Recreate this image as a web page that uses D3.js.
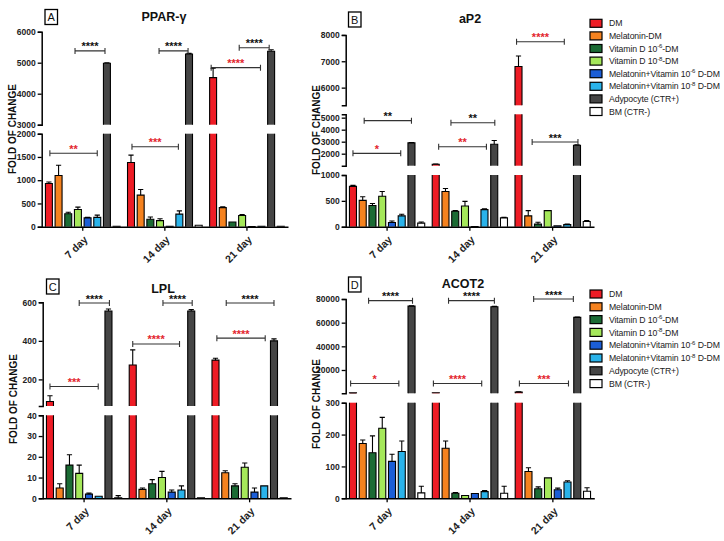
<!DOCTYPE html>
<html><head><meta charset="utf-8">
<script src="https://cdn.jsdelivr.net/npm/d3@7"></script>
<style>body{margin:0;background:#fff} svg{display:block}</style>
</head><body><svg id="c" width="724" height="541"></svg>
<script>
const FONT = '"Liberation Sans", Arial, Helvetica, sans-serif';
const days = ["7 day", "14 day", "21 day"];
const seriesNames = ["DM", "Melatonin-DM", "Vitamin D 10-6-DM", "Vitamin D 10-8-DM",
  "Melatonin+Vitamin 10-6 D-DM", "Melatonin+Vitamin 10-8 D-DM", "Adypocyte (CTR+)", "BM (CTR-)"];
const legendParts = [["DM"], ["Melatonin-DM"], ["Vitamin D 10", "-6", "-DM"], ["Vitamin D 10", "-8", "-DM"],
  ["Melatonin+Vitamin 10", "-6", " D-DM"], ["Melatonin+Vitamin 10", "-8", " D-DM"], ["Adypocyte (CTR+)"], ["BM (CTR-)"]];
const seriesColors = ["#ee1c25", "#f5821f", "#1b6b34", "#a5e85a", "#1c5ed6", "#2ab3ea", "#454545", "#ffffff"];

// PPAR-gamma
const pparMean = [[930, 1100, 280, 370, 190, 200, 4980, 10], [1380, 680, 160, 130, 10, 270, 5280, 30], [4520, 410, 100, 240, 5, 10, 5370, 10]];
const pparErr = [[30, 220, 30, 50, 10, 50, 20, 0], [160, 120, 50, 40, 0, 70, 20, 0], [300, 20, 0, 20, 0, 0, 50, 0]];
const pparTicks = [[0, 500, 1000, 1500, 2000], [3000, 4000, 5000, 6000]];
const pparSig = [
  {day: 0, from: 2.7, to: 5.8, at: 5380, label: "****", red: false},
  {day: 0, from: 0.1, to: 5.0, at: 1580, label: "**", red: true},
  {day: 1, from: 2.9, to: 5.9, at: 5380, label: "****", red: false},
  {day: 1, from: 0.1, to: 4.9, at: 1720, label: "***", red: true},
  {day: 2, from: 2.7, to: 5.8, at: 5480, label: "****", red: false},
  {day: 2, from: -0.2, to: 4.9, at: 4840, label: "****", red: true}];

// aP2
const ap2Mean = [[780, 510, 410, 590, 80, 210, 2900, 70], [1120, 680, 300, 400, 5, 330, 2780, 170], [6800, 210, 50, 310, 15, 40, 2700, 100]];
const ap2Err = [[20, 70, 40, 90, 30, 30, 30, 20], [20, 60, 10, 90, 0, 15, 320, 10], [400, 100, 35, 0, 0, 10, 30, 20]];
const ap2Ticks = [[0, 500, 1000], [2000, 3000, 4000, 5000], [6000, 7000, 8000]];
const ap2Sig = [
  {day: 0, from: 1.15, to: 6.0, at: 4750, label: "**", red: false},
  {day: 0, from: 0, to: 4.9, at: 2030, label: "*", red: true},
  {day: 1, from: 1.56, to: 6.06, at: 4580, label: "**", red: false},
  {day: 1, from: 0.3, to: 5.2, at: 2580, label: "**", red: true},
  {day: 2, from: -0.2, to: 4.7, at: 7740, label: "****", red: true},
  {day: 2, from: 1.4, to: 6.1, at: 2970, label: "***", red: false}];

// LPL
const lplMean = [[85, 5, 16, 12, 2, 1, 555, 0.3], [275, 4.3, 7, 10, 3, 4, 555, 0.2], [300, 12.3, 6, 15, 3, 6, 400, 0.3]];
const lplErr = [[30, 2, 5, 4, 0.5, 0, 10, 1], [78, 0.7, 2, 3, 1, 2, 7, 0], [10, 1, 1, 2, 2, 0, 10, 0]];
const lplTicks = [[0, 10, 20, 30, 40], [200, 400, 600]];
const lplSig = [
  {day: 0, from: 3.0, to: 6.1, at: 596, label: "****", red: false},
  {day: 0, from: 0, to: 4.95, at: 163, label: "***", red: true},
  {day: 1, from: 3.1, to: 6.1, at: 596, label: "****", red: false},
  {day: 1, from: 0, to: 4.8, at: 384, label: "****", red: true},
  {day: 2, from: 1.1, to: 6.0, at: 596, label: "****", red: false},
  {day: 2, from: 0.14, to: 5.1, at: 414, label: "****", red: true}];

// ACOT2
const acotMean = [[700, 172, 143, 220, 116, 147, 74000, 17], [800, 157, 16, 9, 15, 21, 73500, 16], [1300, 84, 30, 64, 27, 51, 64500, 22]];
const acotErr = [[0, 11, 53, 34, 22, 33, 300, 21], [0, 23, 2, 0, 0, 3, 300, 22], [300, 12, 6, 0, 5, 4, 200, 11]];
const acotTicks = [[0, 100, 200, 300], [20000, 40000, 60000, 80000]];
const acotSig = [
  {day: 0, from: 1.6, to: 6.1, at: 78600, label: "****", red: false},
  {day: 0, from: -0.24, to: 4.7, at: 8600, label: "*", red: true},
  {day: 1, from: 1.3, to: 6.0, at: 78600, label: "****", red: false},
  {day: 1, from: -0.25, to: 4.7, at: 8600, label: "****", red: true},
  {day: 2, from: 1.53, to: 5.6, at: 80200, label: "****", red: false},
  {day: 2, from: 0.07, to: 5.1, at: 8600, label: "***", red: true}];

// layout
const panels = [
  {letter: "A", title: "PPAR-\u03B3", mean: pparMean, err: pparErr, sig: pparSig, ticks: pparTicks,
   x0: 41.7, x1: 288, segs: [{d: [0, 2000], r: [226.7, 133.7]}, {d: [3000, 6000], r: [124.7, 31.7]}],
   ylab: [12.7, 129], title_xy: [164, 21], box: [45, 9.5], legend: null},
  {letter: "B", title: "aP2", mean: ap2Mean, err: ap2Err, sig: ap2Sig, ticks: ap2Ticks,
   x0: 345.7, x1: 594, segs: [{d: [0, 1000], r: [226.7, 175]}, {d: [1000, 5280], r: [165.7, 114.3]}, {d: [5330, 8000], r: [105.3, 34.9]}],
   ylab: [316.7, 130], title_xy: [470, 23], box: [348.5, 12], legend: [590, 23.3, 12.6]},
  {letter: "C", title: "LPL", mean: lplMean, err: lplErr, sig: lplSig, ticks: lplTicks,
   x0: 42.7, x1: 291, segs: [{d: [0, 40], r: [498.3, 415.3]}, {d: [62, 600], r: [406, 302.3]}],
   ylab: [13.3, 399], title_xy: [163, 292.5], box: [46.5, 279], legend: null},
  {letter: "D", title: "ACOT2", mean: acotMean, err: acotErr, sig: acotSig, ticks: acotTicks,
   x0: 345.7, x1: 594.3, segs: [{d: [0, 300], r: [498.3, 402.7]}, {d: [300, 80000], r: [393.3, 299]}],
   ylab: [316.7, 404], title_xy: [463, 288], box: [348.5, 277], legend: [590, 294, 12.8]}
];

const svg = d3.select("#c").attr("font-family", FONT);

function drawPanel(p) {
  const g = svg.append("g");
  const segs = p.segs.map((s, k) => ({...s, t: p.ticks[k], y: d3.scaleLinear().domain(s.d).range(s.r)}));
  const y0 = segs[0].r[0];
  const xg = d3.scaleBand().domain(days).range([p.x0, p.x1]);
  const xb = d3.scaleBand().domain(d3.range(seriesNames.length)).range([0, xg.bandwidth()])
    .paddingInner(0.28).paddingOuter(0.385);
  const yOf = v => {
    for (let k = segs.length - 1; k >= 0; k--) {
      const s = segs[k];
      if (v >= s.d[0]) return s.y(Math.min(v, s.d[1]));
    }
    return segs[0].y(0);
  };

  // bars
  p.mean.forEach((row, di) => row.forEach((v, i) => {
    const x = xg(days[di]) + xb(i), w = xb.bandwidth();
    segs.forEach((s, si) => {
      const lo = s.d[0], hi = s.d[1];
      if (si > 0 && v <= lo) return;
      const top = Math.min(v, hi);
      const yb = s.y(lo), yt = s.y(top);
      g.append("rect").attr("x", x).attr("y", yt).attr("width", w)
        .attr("height", Math.max(0, yb - yt)).attr("fill", seriesColors[i]);
      const d = v <= hi ? `M${x},${yb}V${yt}H${x + w}V${yb}` : `M${x},${yb}V${yt}M${x + w},${yt}V${yb}`;
      g.append("path").attr("d", d).attr("fill", "none").attr("stroke", "#000").attr("stroke-width", 1.1);
    });
    const e = p.err[di][i];
    if (e > 0) {
      const cx = x + w / 2, ya = yOf(v), yz = yOf(v + e);
      g.append("path").attr("d", `M${cx},${ya}V${yz}M${cx - 2.6},${yz}H${cx + 2.6}`)
        .attr("fill", "none").attr("stroke", "#000").attr("stroke-width", 1.1);
    }
  }));

  // y axis segments
  segs.forEach(s => {
    const a = g.append("g").attr("transform", `translate(${p.x0},0)`)
      .call(d3.axisLeft(s.y).tickValues(s.t).tickSize(4).tickSizeOuter(4).tickPadding(2).tickFormat(d3.format("d")));
    a.attr("font-family", FONT).attr("font-size", 8.5).attr("font-weight", "bold");
    a.select(".domain").attr("stroke-width", 1.5);
    a.selectAll(".tick line").attr("stroke-width", 1.3);
    a.selectAll("text").attr("fill", "#222");
  });

  // x axis
  const xa = g.append("g").attr("transform", `translate(0,${y0})`)
    .call(d3.axisBottom(xg).tickSize(4).tickSizeOuter(0));
  xa.attr("font-family", FONT).attr("font-size", 10.5).attr("font-weight", "bold");
  xa.select(".domain").attr("stroke-width", 1.5);
  xa.selectAll(".tick line").attr("stroke-width", 1.3);
  xa.selectAll("text").attr("x", 0).attr("y", 0).attr("dy", "0.35em").attr("fill", "#222")
    .attr("transform", "translate(3,11) rotate(-45)").style("text-anchor", "end");

  // significance brackets
  p.sig.forEach(s => {
    const bx = f => xg(days[s.day]) + xb(0) + xb.bandwidth() / 2 + f * xb.step();
    const xa1 = bx(s.from), xz = bx(s.to), yy = yOf(s.at);
    g.append("path").attr("d", `M${xa1},${yy - 3}V${yy + 3}M${xa1},${yy}H${xz}M${xz},${yy - 3}V${yy + 3}`)
      .attr("fill", "none").attr("stroke", "#333").attr("stroke-width", 1.1);
    g.append("text").attr("x", (xa1 + xz) / 2).attr("y", yy - 0.5).attr("text-anchor", "middle")
      .attr("font-size", 11).attr("font-weight", "bold").attr("fill", s.red ? "#e3262e" : "#111").text(s.label);
  });

  // y label
  g.append("text").attr("transform", `translate(${p.ylab[0]},${p.ylab[1]}) rotate(-90)`)
    .attr("text-anchor", "middle").attr("dominant-baseline", "central")
    .attr("font-size", 10).attr("font-weight", "bold").attr("fill", "#111").text("FOLD OF CHANGE");

  // title
  g.append("text").attr("x", p.title_xy[0]).attr("y", p.title_xy[1]).attr("text-anchor", "middle")
    .attr("font-size", 12.5).attr("font-weight", "bold").attr("fill", "#111").text(p.title);

  // letter box
  g.append("rect").attr("x", p.box[0]).attr("y", p.box[1]).attr("width", 12.5).attr("height", 15)
    .attr("fill", "#fff").attr("stroke", "#000").attr("stroke-width", 1.3);
  g.append("text").attr("x", p.box[0] + 6.25).attr("y", p.box[1] + 11.5).attr("text-anchor", "middle")
    .attr("font-size", 11).attr("fill", "#111").text(p.letter);

  // legend
  if (p.legend) {
    const [lx, ly, step] = p.legend;
    legendParts.forEach((parts, i) => {
      const cy = ly + i * step;
      g.append("rect").attr("x", lx).attr("y", cy - 4).attr("width", 12).attr("height", 8)
        .attr("fill", seriesColors[i]).attr("stroke", "#000").attr("stroke-width", 1.2);
      const t = g.append("text").attr("x", lx + 19).attr("y", cy + 3.1).attr("font-size", 8.7)
        .attr("letter-spacing", -0.12).attr("fill", "#222");
      t.append("tspan").text(parts[0]);
      if (parts.length > 1) {
        t.append("tspan").attr("dy", -3.4).attr("font-size", 6).text(parts[1]);
        t.append("tspan").attr("dy", 3.4).text(parts[2]);
      }
    });
  }
}

panels.forEach(drawPanel);
</script>
</body></html>
